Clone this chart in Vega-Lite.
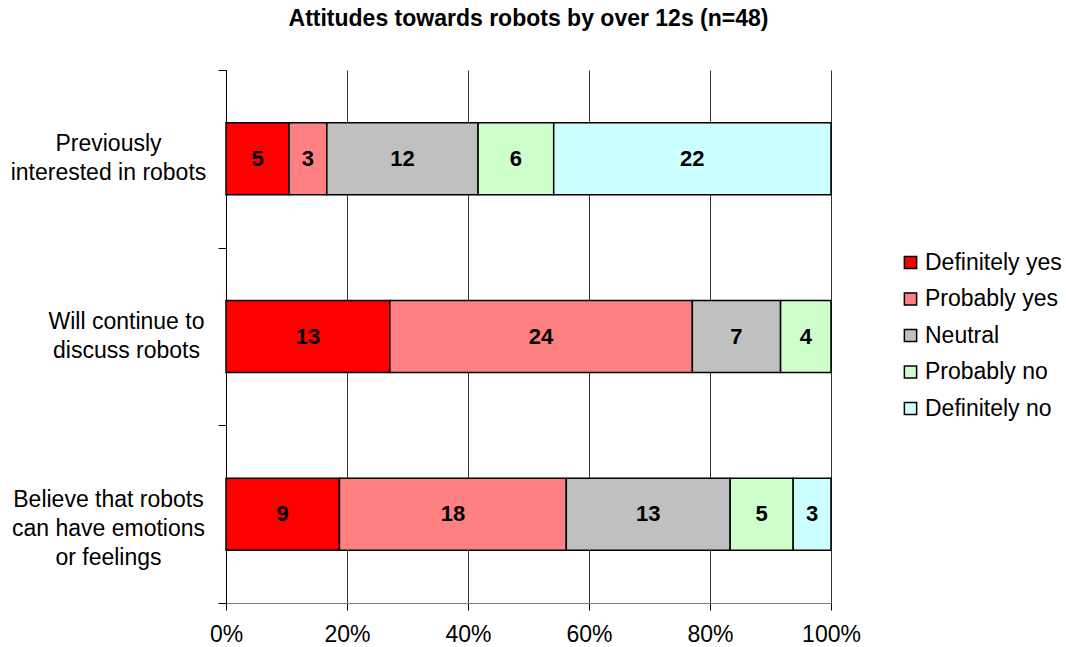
{
  "$schema": "https://vega.github.io/schema/vega-lite/v6.json",
  "autosize": {"type": "none"},
  "padding": {"left": 226, "top": 70, "right": 235, "bottom": 44},
  "width": 605,
  "height": 533,
  "background": "white",
  "title": {
    "text": "Attitudes towards robots by over 12s (n=48)",
    "font": "Liberation Sans",
    "fontSize": 23,
    "fontWeight": "bold",
    "color": "black",
    "anchor": "middle",
    "offset": 13
  },
  "config": {
    "view": {"stroke": null},
    "font": "Liberation Sans"
  },
  "data": {
    "values": [
      {"q": "Previously|interested in robots", "r": "Definitely yes", "k": 1, "n": 5},
      {"q": "Previously|interested in robots", "r": "Probably yes", "k": 2, "n": 3},
      {"q": "Previously|interested in robots", "r": "Neutral", "k": 3, "n": 12},
      {"q": "Previously|interested in robots", "r": "Probably no", "k": 4, "n": 6},
      {"q": "Previously|interested in robots", "r": "Definitely no", "k": 5, "n": 22},
      {"q": "Will continue to|discuss robots", "r": "Definitely yes", "k": 1, "n": 13},
      {"q": "Will continue to|discuss robots", "r": "Probably yes", "k": 2, "n": 24},
      {"q": "Will continue to|discuss robots", "r": "Neutral", "k": 3, "n": 7},
      {"q": "Will continue to|discuss robots", "r": "Probably no", "k": 4, "n": 4},
      {"q": "Believe that robots|can have emotions|or feelings", "r": "Definitely yes", "k": 1, "n": 9},
      {"q": "Believe that robots|can have emotions|or feelings", "r": "Probably yes", "k": 2, "n": 18},
      {"q": "Believe that robots|can have emotions|or feelings", "r": "Neutral", "k": 3, "n": 13},
      {"q": "Believe that robots|can have emotions|or feelings", "r": "Probably no", "k": 4, "n": 5},
      {"q": "Believe that robots|can have emotions|or feelings", "r": "Definitely no", "k": 5, "n": 3}
    ]
  },
  "transform": [
    {"stack": "n", "groupby": ["q"], "sort": [{"field": "k", "order": "ascending"}], "offset": "normalize", "as": ["x0", "x1"]},
    {"calculate": "(datum.x0 + datum.x1) / 2", "as": "xm"}
  ],
  "encoding": {
    "y": {
      "field": "q",
      "type": "nominal",
      "sort": null,
      "title": null,
      "scale": {"paddingInner": 0, "paddingOuter": 0},
      "axis": {
        "labelExpr": "split(datum.label, '|')",
        "labelFont": "Liberation Sans",
        "labelFontSize": 23,
        "labelColor": "black",
        "labelAlign": "center",
        "labelBaseline": "line-bottom",
        "labelLineHeight": 29,
        "labelLimit": 300,
        "labelPadding": {"condition": {"test": "datum.value === 'Will continue to|discuss robots'", "value": 92}, "value": 110},
        "tickBand": "extent",
        "tickSize": 8,
        "tickColor": "black",
        "domainColor": "black",
        "domainWidth": 1,
        "grid": false
      }
    }
  },
  "layer": [
    {
      "mark": {"type": "bar", "height": {"band": 0.405}, "stroke": "black", "strokeWidth": 1.5},
      "encoding": {
        "x": {
          "field": "x0",
          "type": "quantitative",
          "scale": {"domain": [0, 1], "nice": false},
          "title": null,
          "axis": {
            "values": [0, 0.2, 0.4, 0.6, 0.8, 1],
            "format": ".0%",
            "labelFont": "Liberation Sans",
            "labelFontSize": 23,
            "labelColor": "black",
            "labelPadding": 13,
            "labelFlush": false,
            "tickSize": 7,
            "tickColor": "black",
            "domainColor": "#808080",
            "grid": true,
            "gridColor": "#333333",
            "gridWidth": 1,
            "zindex": 0
          }
        },
        "x2": {"field": "x1"},
        "color": {
          "field": "r",
          "type": "nominal",
          "title": null,
          "scale": {
            "domain": ["Definitely yes", "Probably yes", "Neutral", "Probably no", "Definitely no"],
            "range": ["#FF0000", "#FF8080", "#C0C0C0", "#CCFFCC", "#CCFFFF"]
          },
          "legend": {
            "orient": "none",
            "legendX": 673,
            "legendY": 181,
            "symbolType": "square",
            "symbolSize": 150,
            "symbolStrokeColor": "black",
            "symbolStrokeWidth": 1.5,
            "labelFont": "Liberation Sans",
            "labelFontSize": 23,
            "labelColor": "black",
            "labelOffset": 3,
            "rowPadding": 12.5
          }
        }
      }
    },
    {
      "mark": {"type": "text", "font": "Liberation Sans", "fontSize": 22, "fontWeight": "bold", "color": "black", "baseline": "middle", "align": "center"},
      "encoding": {
        "x": {"field": "xm", "type": "quantitative"},
        "text": {"field": "n", "type": "quantitative"}
      }
    }
  ]
}
